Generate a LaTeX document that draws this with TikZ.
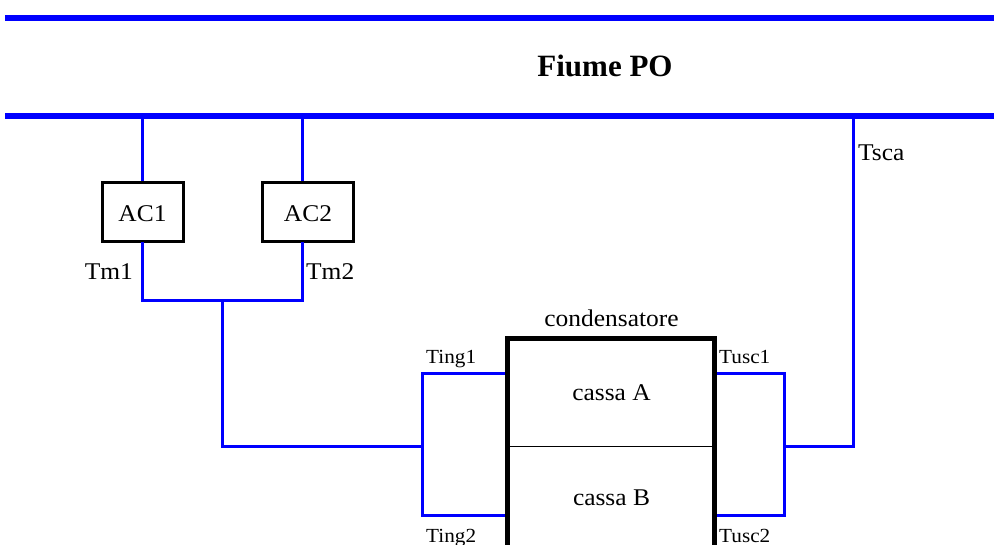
\documentclass[tikz,border=0pt]{standalone}
\usepackage{fontspec}
\setmainfont[FakeStretch=1.06]{Liberation Serif}
\newfontfamily\titlefont{Liberation Serif}
\usepackage{xcolor}
\usepackage{tikz}
\usetikzlibrary{positioning,calc}
\definecolor{riverblue}{HTML}{0000FF}

\tikzset{
  pipe/.style={riverblue, line width=3pt},
  bankline/.style={riverblue, line width=6pt},
  pumpbox/.style={draw=black, line width=3pt, minimum width=81pt, minimum height=59pt, inner sep=0pt},
  biglbl/.style={font=\fontsize{24}{24}\selectfont, inner sep=0pt},
  smalllbl/.style={font=\fontsize{20}{20}\selectfont, inner sep=0pt},
}

\begin{document}
\begin{tikzpicture}[x=1pt,y=-1pt]
\useasboundingbox (0,0) rectangle (994,545);
\clip (0,0) rectangle (994,545);
% fiume
\coordinate (bankNW) at (5,18);
\coordinate (bankNE) at (994,18);
\coordinate (bankSW) at (5,116);
\coordinate (bankSE) at (994,116);
\draw[bankline] (bankNW) -- (bankNE);
\draw[bankline] (bankSW) -- (bankSE);
\node[font=\titlefont\fontsize{31}{31}\selectfont\bfseries, inner sep=0pt, anchor=base] (fiume) at (605,77) {Fiume PO};

% pompe
\node[pumpbox] (ac1) at (142.5,212.5) {};
\node[pumpbox, minimum width=91pt] (ac2) at (307.5,212.5) {};
\node[biglbl, anchor=base] (ac1txt) at (142.5,222) {AC1};
\node[biglbl, anchor=base] (ac2txt) at (308,222) {AC2};
\coordinate (ac1top) at (142,116);
\coordinate (ac2top) at (302,116);
\coordinate (ac1bot) at (142,242);
\coordinate (ac2bot) at (302,242);
\coordinate (mandata) at (222,301);
\coordinate (ingresso) at (422,446);
\draw[pipe] (ac1top) -- (ac1top |- ac1.north);
\draw[pipe] (ac2top) -- (ac2top |- ac2.north);
\draw[pipe] (ac1bot) |- (ac2bot |- mandata) -- (ac2bot);
\draw[pipe] (mandata) |- (ingresso);
\node[biglbl, anchor=base east] (tm1) at (133,280) {Tm1};
\node[biglbl, anchor=base west] (tm2) at (306,280) {Tm2};

% condensatore
\coordinate (ting1) at (507,374);
\coordinate (ting2) at (507,515);
\coordinate (tusc1) at (714,374);
\coordinate (tusc2) at (714,515);
\coordinate (uscita) at (784,446);
\coordinate (scarico) at (853,446);
\draw[pipe] (ting1) -| (ting2 -| ingresso) -- (ting2);
\draw[pipe] (tusc1) -| (tusc2 -| uscita) -- (tusc2);
\draw[pipe] (uscita) -- (scarico) -- (scarico |- bankSE);
\draw[line width=5pt] (507,560) |- (714,339) -- (714,560);
\draw[line width=1pt] (507,446) -- (714,446);
\node[biglbl, anchor=base] (cond) at (611.5,327) {condensatore};
\node[biglbl, anchor=base] (cassaA) at (611.5,401) {cassa A};
\node[biglbl, anchor=base] (cassaB) at (611.5,505) {cassa B};
\node[smalllbl, anchor=base west] (ting1lbl) at (426,364) {Ting1};
\node[smalllbl, anchor=base west] (ting2lbl) at (426,542) {Ting2};
\node[smalllbl, anchor=base west] (tusc1lbl) at (719,364) {Tusc1};
\node[smalllbl, anchor=base west] (tusc2lbl) at (719,542) {Tusc2};
\node[biglbl, anchor=base west] (tsca) at (858,161) {Tsca};
\end{tikzpicture}
\end{document}
